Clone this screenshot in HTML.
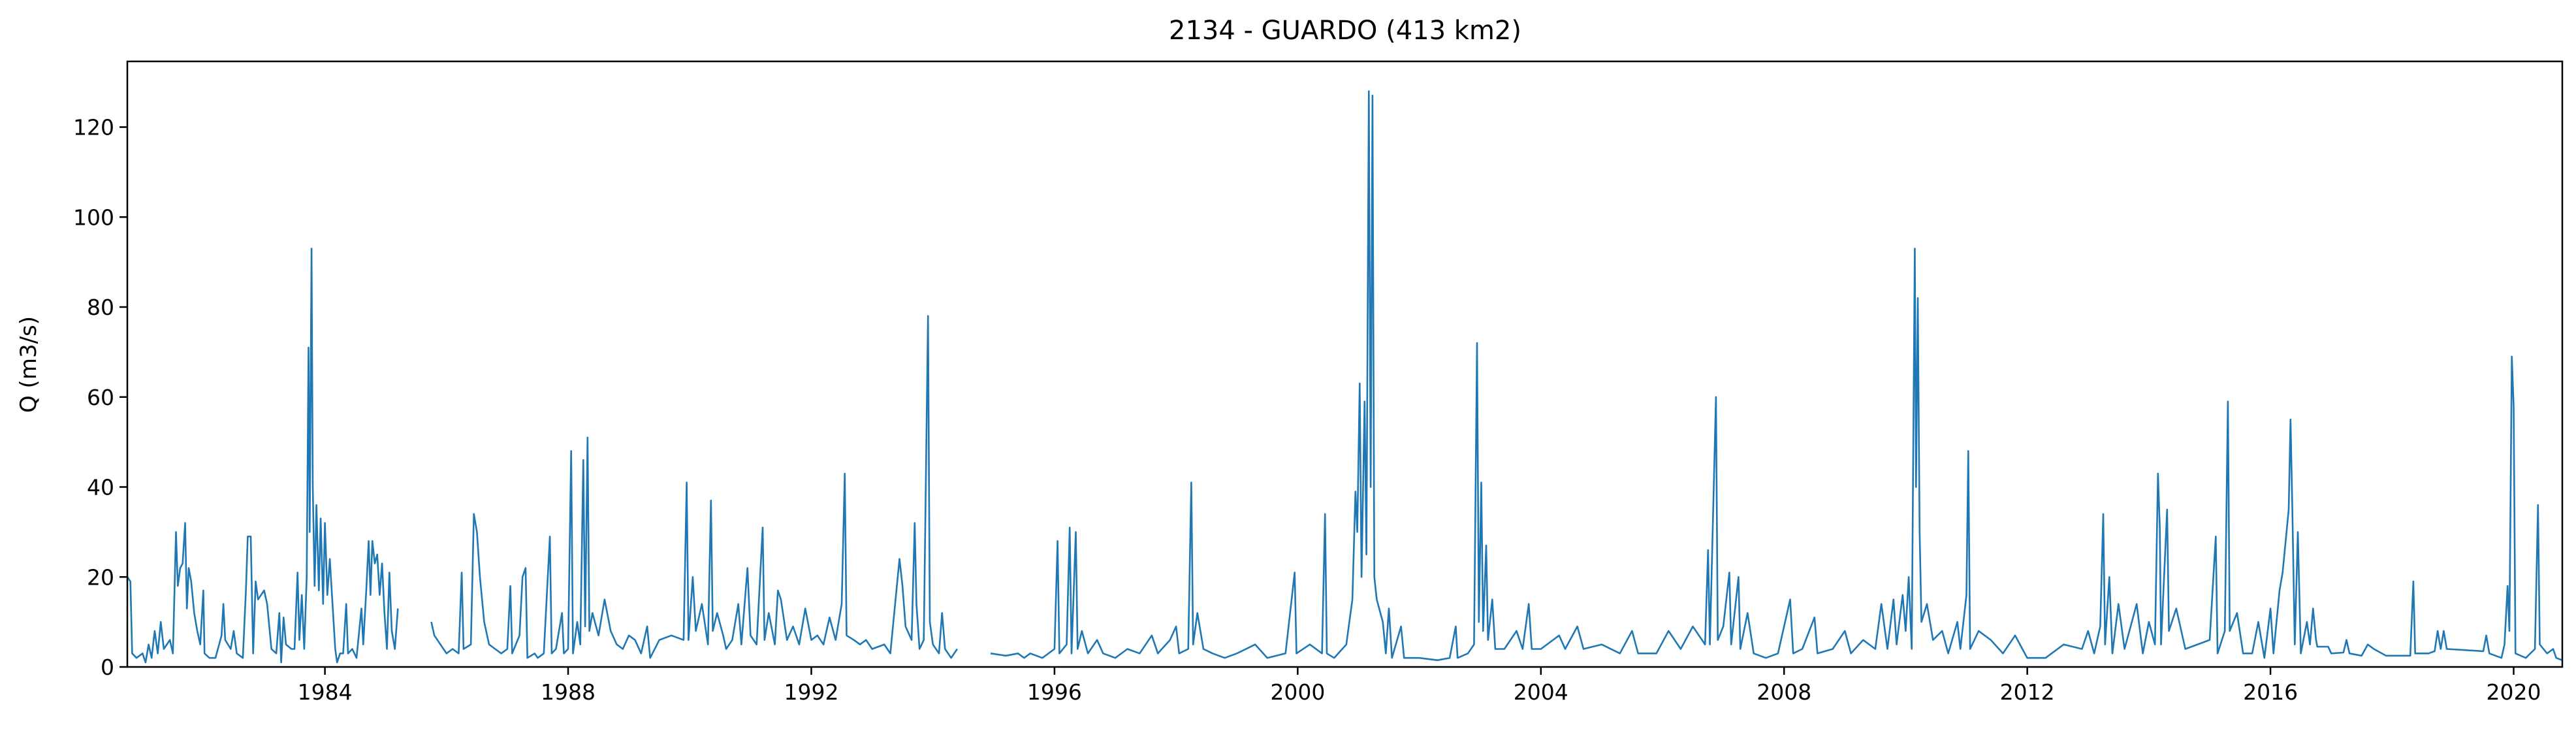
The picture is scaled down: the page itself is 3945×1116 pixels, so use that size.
<!DOCTYPE html>
<html><head><meta charset="utf-8"><style>
html,body{margin:0;padding:0;background:#fff;}
svg{display:block;font-family:"DejaVu Sans","Liberation Sans",sans-serif;}
</style></head><body>
<svg id="chart" width="3945" height="1116" viewBox="0 0 3945 1116" xmlns="http://www.w3.org/2000/svg">
<rect width="3945" height="1116" fill="#fff"/>
<text x="2060" y="60" font-size="40" text-anchor="middle">2134 - GUARDO (413 km2)</text>
<text transform="translate(55,558) rotate(-90)" font-size="34" text-anchor="middle">Q (m3/s)</text>
<g id="plot"></g>
</svg>
<script>
const seg1Years=[1980.75,1980.8,1980.83,1980.9,1981.0,1981.05,1981.1,1981.15,1981.2,1981.25,1981.3,1981.35,1981.4,1981.45,1981.5,1981.55,1981.58,1981.62,1981.66,1981.7,1981.73,1981.76,1981.8,1981.85,1981.9,1981.95,1982.0,1982.02,1982.1,1982.2,1982.3,1982.33,1982.36,1982.45,1982.5,1982.55,1982.65,1982.7,1982.73,1982.78,1982.82,1982.86,1982.9,1982.95,1983.0,1983.05,1983.12,1983.2,1983.25,1983.28,1983.32,1983.36,1983.45,1983.5,1983.55,1983.58,1983.62,1983.66,1983.7,1983.73,1983.75,1983.78,1983.8,1983.83,1983.86,1983.9,1983.93,1983.97,1984.0,1984.04,1984.08,1984.12,1984.17,1984.2,1984.25,1984.3,1984.35,1984.38,1984.45,1984.52,1984.6,1984.63,1984.68,1984.72,1984.75,1984.78,1984.82,1984.86,1984.9,1984.94,1984.98,1985.02,1985.06,1985.1,1985.15,1985.2];
const seg1Values=[20,19,3,2,3,1,5,2,8,3,10,4,5,6,3,30,18,22,23,32,13,22,19,12,8,5,17,3,2,2,7,14,6,4,8,3,2,17,29,29,3,19,15,16,17,14,4,3,12,1,11,5,4,4,21,6,16,4,20,71,30,93,40,18,36,17,33,14,32,16,24,15,4,1,3,3,14,3,4,2,13,5,17,28,16,28,23,25,16,23,12,4,21,8,4,13];
const seg2Years=[1985.75,1985.8,1985.9,1986.0,1986.1,1986.2,1986.25,1986.28,1986.4,1986.45,1986.5,1986.55,1986.62,1986.7,1986.8,1986.9,1987.0,1987.05,1987.08,1987.2,1987.25,1987.3,1987.33,1987.45,1987.5,1987.6,1987.7,1987.73,1987.8,1987.9,1987.93,1988.0,1988.05,1988.08,1988.15,1988.2,1988.25,1988.28,1988.32,1988.35,1988.4,1988.5,1988.6,1988.7,1988.8,1988.9,1989.0,1989.1,1989.2,1989.3,1989.35,1989.5,1989.7,1989.9,1989.95,1989.98,1990.05,1990.1,1990.2,1990.3,1990.35,1990.38,1990.45,1990.55,1990.6,1990.7,1990.8,1990.85,1990.95,1991.0,1991.1,1991.2,1991.23,1991.3,1991.4,1991.45,1991.5,1991.6,1991.7,1991.8,1991.9,1992.0,1992.1,1992.2,1992.3,1992.4,1992.5,1992.55,1992.58,1992.7,1992.8,1992.9,1993.0,1993.2,1993.3,1993.45,1993.5,1993.55,1993.65,1993.7,1993.73,1993.78,1993.85,1993.92,1993.95,1994.0,1994.1,1994.15,1994.2,1994.3,1994.4];
const seg2Values=[10,7,5,3,4,3,21,4,5,34,30,20,10,5,4,3,4,18,3,7,20,22,2,3,2,3,29,3,4,12,3,4,48,3,10,5,46,9,51,8,12,7,15,8,5,4,7,6,3,9,2,6,7,6,41,6,20,8,14,5,37,8,12,7,4,6,14,5,22,7,5,31,6,12,5,17,15,6,9,5,13,6,7,5,11,6,14,43,7,6,5,6,4,5,3,24,18,9,6,32,14,4,6,78,10,5,3,12,4,2,4];
const seg3Years=[1994.95,1995.2,1995.4,1995.5,1995.6,1995.8,1996.0,1996.05,1996.08,1996.2,1996.25,1996.28,1996.35,1996.38,1996.45,1996.55,1996.7,1996.8,1997.0,1997.2,1997.4,1997.6,1997.7,1997.9,1998.0,1998.05,1998.2,1998.25,1998.28,1998.35,1998.45,1998.6,1998.8,1999.0,1999.3,1999.5,1999.8,1999.95,1999.98,2000.2,2000.4,2000.45,2000.48,2000.6,2000.8,2000.9,2000.95,2000.98,2001.02,2001.05,2001.1,2001.13,2001.17,2001.2,2001.23,2001.26,2001.3,2001.4,2001.45,2001.5,2001.55,2001.7,2001.75,2002.0,2002.3,2002.5,2002.6,2002.63,2002.8,2002.9,2002.95,2002.98,2003.02,2003.05,2003.1,2003.13,2003.2,2003.25,2003.4,2003.6,2003.7,2003.8,2003.85,2004.0,2004.3,2004.4,2004.6,2004.7,2005.0,2005.3,2005.5,2005.6,2005.9,2006.1,2006.3,2006.5,2006.7,2006.75,2006.78,2006.88,2006.91,2007.0,2007.1,2007.13,2007.25,2007.28,2007.4,2007.5,2007.7,2007.9,2008.1,2008.15,2008.3,2008.5,2008.55,2008.8,2009.0,2009.1,2009.3,2009.5,2009.6,2009.7,2009.8,2009.85,2009.95,2010.0,2010.05,2010.1,2010.15,2010.17,2010.2,2010.23,2010.26,2010.35,2010.45,2010.6,2010.7,2010.85,2010.9,2011.0,2011.03,2011.06,2011.2,2011.4,2011.6,2011.8,2012.0,2012.3,2012.6,2012.9,2013.0,2013.1,2013.2,2013.25,2013.28,2013.35,2013.4,2013.5,2013.6,2013.8,2013.9,2014.0,2014.1,2014.15,2014.18,2014.2,2014.3,2014.33,2014.45,2014.6,2014.8,2015.0,2015.1,2015.13,2015.25,2015.3,2015.33,2015.45,2015.55,2015.7,2015.8,2015.9,2016.0,2016.05,2016.15,2016.2,2016.3,2016.33,2016.36,2016.4,2016.45,2016.5,2016.6,2016.65,2016.7,2016.75,2016.77,2016.95,2017.0,2017.2,2017.25,2017.3,2017.5,2017.6,2017.7,2017.9,2018.3,2018.35,2018.38,2018.6,2018.7,2018.75,2018.8,2018.85,2018.9,2019.5,2019.55,2019.6,2019.8,2019.85,2019.9,2019.93,2019.97,2020.0,2020.03,2020.2,2020.35,2020.4,2020.43,2020.55,2020.65,2020.7,2020.8];
const seg3Values=[3,2.5,3,2,3,2,4,28,3,5,31,3,30,4,8,3,6,3,2,4,3,7,3,6,9,3,4,41,5,12,4,3,2,3,5,2,3,21,3,5,3,34,3,2,5,15,39,30,63,20,59,25,128,40,127,20,15,10,3,13,2,9,2,2,1.5,2,9,2,3,5,72,10,41,8,27,6,15,4,4,8,4,14,4,4,7,4,9,4,5,3,8,3,3,8,4,9,5,26,5,60,6,9,21,5,20,4,12,3,2,3,15,3,4,11,3,4,8,3,6,4,14,4,15,5,16,8,20,4,93,40,82,30,10,14,6,8,3,10,4,16,48,4,8,6,3,7,2,2,5,4,8,3,9,34,5,20,3,14,4,14,3,10,5,43,31,5,35,8,13,4,5,6,29,3,8,59,8,12,3,3,10,2,13,3,17,21,35,55,35,5,30,3,10,5,13,6,4.5,4.5,3,3.2,6,3,2.5,5,4,2.5,2.5,19,3,3,3.5,8,4,8,4,3.5,7,3,2,5,18,8,69,58,3,2,4,36,5,3,4,2,1.5];
const yTicks=[0,20,40,60,80,100,120];
const xTickYears=[1984,1988,1992,1996,2000,2004,2008,2012,2016,2020];

const L=195,R=3924,T=94,B=1021;
const x0=1980.75,x1=2020.8,yMax=134.6;
function xs(v){return L+(v-x0)/(x1-x0)*(R-L);}
function ys(v){return B-v/yMax*(B-T);}
const NS='http://www.w3.org/2000/svg';
const g=document.getElementById('plot');
function mk(tag,attrs){const e=document.createElementNS(NS,tag);for(const k in attrs)e.setAttribute(k,attrs[k]);g.appendChild(e);return e;}

const segs=[[seg1Years,seg1Values],[seg2Years,seg2Values],[seg3Years,seg3Values]];
segs.forEach((s,i)=>{
  const d=s[0].map((yr,j)=>(j?'L':'M')+xs(yr).toFixed(1)+' '+ys(s[1][j]).toFixed(1)).join(' ');
  const p=mk('path',{d:d,fill:'none',stroke:'#1f77b4','stroke-width':2.6,'stroke-linejoin':'round'});
  
  
});

const frame=mk('rect',{x:L,y:T,width:R-L,height:B-T,fill:'none',stroke:'#000','stroke-width':2.5});



yTicks.forEach(v=>{
  const y=ys(v);
  const t=mk('line',{x1:L-12,x2:L,y1:y,y2:y,stroke:'#000','stroke-width':2.5});
  
  
  const lb=mk('text',{x:L-20,y:y+12,'font-size':33,'text-anchor':'end'});
  lb.textContent=v;
  
  
});
xTickYears.forEach(v=>{
  const x=xs(v);
  const t=mk('line',{x1:x,x2:x,y1:B,y2:B+12,stroke:'#000','stroke-width':2.5});
  
  
  const lb=mk('text',{x:x,y:B+50,'font-size':33,'text-anchor':'middle'});
  lb.textContent=v;
  
  
});
</script>
</body></html>
